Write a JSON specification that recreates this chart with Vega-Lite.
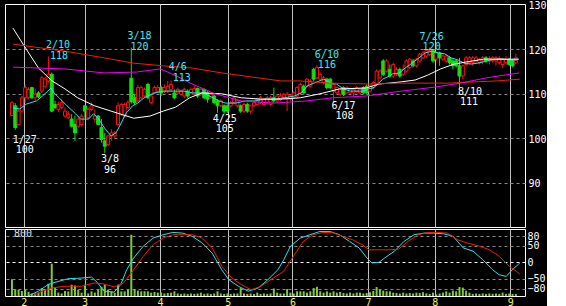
{
"$schema":"https://vega.github.io/schema/vega-lite/v6.json",
"background":"#000000",
"padding":{"left":4,"top":0,"right":0,"bottom":0},
"spacing":0,
"config":{"view":{"stroke":"#ffffff","fill":"#000000","strokeWidth":1},"text":{"font":"DejaVu Sans Mono"}},
"datasets":{
"c":[
{"i":0,"o":105.1,"h":108.4,"l":105.0,"c":108.0,"v":200},
{"i":1,"o":107.3,"h":107.9,"l":101.9,"c":102.4,"v":80},
{"i":2,"o":103.1,"h":106.5,"l":102.9,"c":106.1,"v":75},
{"i":3,"o":106.1,"h":109.5,"l":105.6,"c":109.1,"v":60},
{"i":4,"o":109.1,"h":112.1,"l":108.0,"c":111.4,"v":72},
{"i":5,"o":109.1,"h":111.5,"l":108.8,"c":111.0,"v":50},
{"i":6,"o":111.4,"h":111.6,"l":108.9,"c":109.1,"v":30},
{"i":7,"o":109.1,"h":111.2,"l":108.5,"c":109.9,"v":30},
{"i":8,"o":110.2,"h":110.6,"l":109.0,"c":109.3,"v":40},
{"i":9,"o":110.6,"h":114.0,"l":110.2,"c":113.6,"v":95},
{"i":10,"o":111.7,"h":113.8,"l":111.2,"c":113.3,"v":75},
{"i":11,"o":112.9,"h":118.4,"l":112.5,"c":114.4,"v":147},
{"i":12,"o":114.4,"h":114.8,"l":105.9,"c":106.1,"v":386},
{"i":13,"o":107.6,"h":108.4,"l":106.5,"c":106.9,"v":95},
{"i":14,"o":106.5,"h":108.2,"l":105.9,"c":107.6,"v":40},
{"i":15,"o":106.9,"h":108.8,"l":106.5,"c":108.0,"v":30},
{"i":16,"o":105.0,"h":106.9,"l":104.6,"c":106.1,"v":60},
{"i":17,"o":104.6,"h":106.1,"l":104.3,"c":105.4,"v":55},
{"i":18,"o":104.3,"h":105.4,"l":102.4,"c":102.7,"v":135},
{"i":19,"o":103.1,"h":105.0,"l":99.4,"c":101.2,"v":125},
{"i":20,"o":102.7,"h":105.0,"l":102.4,"c":104.3,"v":75},
{"i":21,"o":103.1,"h":105.4,"l":102.7,"c":105.0,"v":40},
{"i":22,"o":107.3,"h":107.4,"l":104.6,"c":106.1,"v":135},
{"i":23,"o":104.6,"h":106.9,"l":104.3,"c":106.5,"v":30},
{"i":24,"o":106.5,"h":108.0,"l":106.1,"c":107.3,"v":55},
{"i":25,"o":104.3,"h":106.5,"l":103.5,"c":105.0,"v":40},
{"i":26,"o":105.0,"h":105.2,"l":102.9,"c":103.1,"v":75},
{"i":27,"o":102.4,"h":104.3,"l":99.0,"c":99.7,"v":110},
{"i":28,"o":99.4,"h":101.2,"l":96.7,"c":98.2,"v":135},
{"i":29,"o":98.6,"h":100.8,"l":98.2,"c":100.5,"v":75},
{"i":30,"o":100.5,"h":102.0,"l":99.4,"c":101.2,"v":55},
{"i":31,"o":100.5,"h":101.6,"l":100.0,"c":101.2,"v":40},
{"i":32,"o":103.1,"h":108.0,"l":102.7,"c":107.3,"v":135},
{"i":33,"o":105.4,"h":108.0,"l":105.0,"c":107.6,"v":55},
{"i":34,"o":105.0,"h":108.0,"l":104.6,"c":107.6,"v":55},
{"i":35,"o":106.9,"h":108.6,"l":106.5,"c":108.0,"v":75},
{"i":36,"o":113.5,"h":120.4,"l":107.8,"c":108.2,"v":732},
{"i":37,"o":109.1,"h":110.0,"l":107.5,"c":108.0,"v":83},
{"i":38,"o":108.4,"h":112.0,"l":108.0,"c":111.4,"v":64},
{"i":39,"o":109.1,"h":111.8,"l":108.8,"c":111.4,"v":56},
{"i":40,"o":109.5,"h":111.4,"l":109.1,"c":111.0,"v":56},
{"i":41,"o":112.1,"h":112.5,"l":108.8,"c":109.1,"v":56},
{"i":42,"o":108.0,"h":110.0,"l":107.6,"c":109.5,"v":40},
{"i":43,"o":110.2,"h":111.8,"l":109.9,"c":111.4,"v":48},
{"i":44,"o":110.6,"h":112.0,"l":110.2,"c":111.4,"v":40},
{"i":45,"o":111.4,"h":111.8,"l":109.5,"c":110.2,"v":40},
{"i":46,"o":110.6,"h":112.1,"l":110.2,"c":111.4,"v":30},
{"i":47,"o":110.6,"h":112.9,"l":110.2,"c":111.7,"v":35},
{"i":48,"o":111.0,"h":113.0,"l":110.6,"c":112.1,"v":40},
{"i":49,"o":110.2,"h":111.0,"l":108.8,"c":109.1,"v":56},
{"i":50,"o":110.2,"h":111.4,"l":109.9,"c":111.0,"v":30},
{"i":51,"o":109.9,"h":111.0,"l":109.5,"c":110.6,"v":25},
{"i":52,"o":109.5,"h":111.4,"l":109.1,"c":111.0,"v":30},
{"i":53,"o":110.6,"h":111.0,"l":109.1,"c":109.5,"v":25},
{"i":54,"o":110.2,"h":111.4,"l":109.9,"c":111.0,"v":30},
{"i":55,"o":109.9,"h":111.8,"l":109.5,"c":111.2,"v":25},
{"i":56,"o":111.2,"h":111.4,"l":109.1,"c":109.5,"v":30},
{"i":57,"o":109.9,"h":111.4,"l":109.5,"c":111.0,"v":40},
{"i":58,"o":111.0,"h":111.2,"l":108.8,"c":109.1,"v":25},
{"i":59,"o":110.2,"h":110.6,"l":108.0,"c":108.8,"v":30},
{"i":60,"o":109.1,"h":110.2,"l":108.8,"c":109.9,"v":25},
{"i":61,"o":109.5,"h":109.9,"l":107.6,"c":108.0,"v":30},
{"i":62,"o":108.4,"h":108.8,"l":105.7,"c":107.3,"v":56},
{"i":63,"o":107.3,"h":108.8,"l":107.0,"c":108.4,"v":30},
{"i":64,"o":107.3,"h":107.6,"l":105.4,"c":106.1,"v":25},
{"i":65,"o":107.3,"h":107.6,"l":105.7,"c":106.1,"v":30},
{"i":66,"o":107.3,"h":108.4,"l":106.9,"c":108.0,"v":25},
{"i":67,"o":108.0,"h":109.5,"l":107.6,"c":109.1,"v":30},
{"i":68,"o":107.3,"h":108.8,"l":106.9,"c":108.4,"v":30},
{"i":69,"o":107.3,"h":107.6,"l":105.7,"c":106.1,"v":95},
{"i":70,"o":106.1,"h":108.0,"l":105.7,"c":107.6,"v":30},
{"i":71,"o":107.6,"h":108.0,"l":105.7,"c":106.1,"v":25},
{"i":72,"o":106.1,"h":107.6,"l":105.4,"c":107.3,"v":30},
{"i":73,"o":107.3,"h":108.4,"l":106.9,"c":108.0,"v":25},
{"i":74,"o":107.6,"h":109.1,"l":107.3,"c":108.8,"v":40},
{"i":75,"o":108.0,"h":109.5,"l":107.6,"c":109.1,"v":25},
{"i":76,"o":107.6,"h":109.1,"l":107.3,"c":108.8,"v":30},
{"i":77,"o":108.0,"h":109.5,"l":107.6,"c":109.1,"v":25},
{"i":78,"o":107.6,"h":109.5,"l":107.3,"c":109.1,"v":30},
{"i":79,"o":109.1,"h":111.4,"l":108.0,"c":108.4,"v":90},
{"i":80,"o":108.4,"h":109.9,"l":108.0,"c":109.5,"v":40},
{"i":81,"o":108.8,"h":110.2,"l":108.4,"c":109.5,"v":30},
{"i":82,"o":109.1,"h":110.2,"l":108.8,"c":109.9,"v":30},
{"i":83,"o":108.8,"h":110.4,"l":106.1,"c":109.9,"v":83},
{"i":84,"o":108.8,"h":109.9,"l":108.4,"c":109.5,"v":40},
{"i":85,"o":109.1,"h":110.6,"l":108.8,"c":110.2,"v":30},
{"i":86,"o":109.5,"h":111.7,"l":109.1,"c":111.4,"v":56},
{"i":87,"o":110.2,"h":112.5,"l":109.9,"c":112.1,"v":56},
{"i":88,"o":111.7,"h":112.1,"l":109.9,"c":110.2,"v":56},
{"i":89,"o":111.7,"h":113.6,"l":111.4,"c":113.3,"v":40},
{"i":90,"o":111.7,"h":113.3,"l":111.4,"c":112.9,"v":56},
{"i":91,"o":115.5,"h":115.9,"l":112.9,"c":113.3,"v":95},
{"i":92,"o":113.6,"h":116.4,"l":113.3,"c":115.9,"v":110},
{"i":93,"o":113.3,"h":114.8,"l":112.9,"c":114.4,"v":56},
{"i":94,"o":112.5,"h":114.0,"l":112.1,"c":113.6,"v":40},
{"i":95,"o":113.3,"h":113.6,"l":111.0,"c":111.4,"v":56},
{"i":96,"o":113.3,"h":113.6,"l":111.0,"c":111.4,"v":40},
{"i":97,"o":110.6,"h":112.5,"l":108.0,"c":112.1,"v":56},
{"i":98,"o":110.2,"h":111.7,"l":109.9,"c":111.4,"v":40},
{"i":99,"o":109.9,"h":111.4,"l":109.5,"c":111.0,"v":48},
{"i":100,"o":111.4,"h":111.7,"l":109.5,"c":109.9,"v":35},
{"i":101,"o":110.2,"h":111.7,"l":109.9,"c":111.4,"v":30},
{"i":102,"o":110.2,"h":111.4,"l":109.9,"c":111.0,"v":40},
{"i":103,"o":110.2,"h":111.4,"l":109.5,"c":111.0,"v":30},
{"i":104,"o":110.6,"h":111.7,"l":110.2,"c":111.4,"v":40},
{"i":105,"o":110.2,"h":111.4,"l":109.9,"c":111.0,"v":40},
{"i":106,"o":111.4,"h":111.7,"l":109.9,"c":110.2,"v":30},
{"i":107,"o":111.7,"h":112.1,"l":109.9,"c":110.2,"v":35},
{"i":108,"o":110.6,"h":112.1,"l":110.2,"c":111.7,"v":45},
{"i":109,"o":111.4,"h":112.9,"l":111.0,"c":112.5,"v":60},
{"i":110,"o":112.1,"h":115.5,"l":111.7,"c":115.1,"v":107},
{"i":111,"o":113.6,"h":115.5,"l":113.3,"c":115.1,"v":75},
{"i":112,"o":117.4,"h":117.8,"l":114.0,"c":114.4,"v":64},
{"i":113,"o":115.1,"h":117.8,"l":114.8,"c":117.4,"v":56},
{"i":114,"o":115.5,"h":116.6,"l":113.6,"c":114.0,"v":56},
{"i":115,"o":114.0,"h":117.0,"l":113.6,"c":116.6,"v":40},
{"i":116,"o":114.4,"h":116.0,"l":114.0,"c":115.5,"v":35},
{"i":117,"o":115.5,"h":115.9,"l":113.6,"c":114.0,"v":30},
{"i":118,"o":114.4,"h":116.6,"l":114.0,"c":115.5,"v":40},
{"i":119,"o":115.1,"h":117.8,"l":114.8,"c":117.4,"v":30},
{"i":120,"o":115.9,"h":118.1,"l":115.5,"c":117.8,"v":35},
{"i":121,"o":117.4,"h":117.8,"l":115.9,"c":116.3,"v":30},
{"i":122,"o":116.3,"h":118.1,"l":115.9,"c":117.8,"v":40},
{"i":123,"o":117.4,"h":119.2,"l":117.0,"c":118.9,"v":35},
{"i":124,"o":118.1,"h":119.7,"l":117.8,"c":119.2,"v":45},
{"i":125,"o":118.5,"h":120.0,"l":118.1,"c":119.7,"v":30},
{"i":126,"o":118.9,"h":120.4,"l":118.5,"c":119.7,"v":25},
{"i":127,"o":119.7,"h":120.0,"l":117.0,"c":117.4,"v":40},
{"i":128,"o":117.8,"h":119.5,"l":117.4,"c":119.2,"v":20},
{"i":129,"o":119.2,"h":119.5,"l":116.3,"c":118.1,"v":30},
{"i":130,"o":117.8,"h":118.9,"l":117.4,"c":118.5,"v":40},
{"i":131,"o":117.4,"h":118.9,"l":117.0,"c":118.5,"v":56},
{"i":132,"o":118.1,"h":118.5,"l":116.6,"c":117.0,"v":40},
{"i":133,"o":117.4,"h":117.8,"l":115.5,"c":116.3,"v":64},
{"i":134,"o":117.4,"h":117.8,"l":115.9,"c":116.3,"v":56},
{"i":135,"o":116.3,"h":118.1,"l":111.0,"c":114.0,"v":107},
{"i":136,"o":114.0,"h":116.6,"l":113.3,"c":116.3,"v":100},
{"i":137,"o":116.6,"h":118.5,"l":116.3,"c":118.1,"v":64},
{"i":138,"o":117.0,"h":118.5,"l":116.6,"c":118.1,"v":40},
{"i":139,"o":117.0,"h":118.5,"l":116.3,"c":118.1,"v":25},
{"i":140,"o":117.4,"h":118.5,"l":117.0,"c":118.1,"v":30},
{"i":141,"o":117.0,"h":118.1,"l":116.6,"c":117.8,"v":25},
{"i":142,"o":117.4,"h":118.5,"l":116.6,"c":118.1,"v":30},
{"i":143,"o":118.1,"h":118.5,"l":117.0,"c":117.4,"v":25},
{"i":144,"o":117.4,"h":118.5,"l":116.6,"c":118.0,"v":30},
{"i":145,"o":117.4,"h":118.5,"l":117.0,"c":118.1,"v":25},
{"i":146,"o":117.4,"h":118.5,"l":116.3,"c":118.1,"v":30},
{"i":147,"o":117.0,"h":118.5,"l":116.6,"c":118.0,"v":25},
{"i":148,"o":116.6,"h":118.1,"l":115.9,"c":117.8,"v":40},
{"i":149,"o":117.0,"h":118.5,"l":116.6,"c":117.8,"v":25},
{"i":150,"o":117.8,"h":118.1,"l":116.3,"c":116.6,"v":30},
{"i":151,"o":117.4,"h":117.8,"l":116.0,"c":116.3,"v":25},
{"i":152,"o":117.0,"h":119.0,"l":116.6,"c":118.1,"v":25}
],
"ma":[
{"s":"m5","i":0.3,"v":106.8},{"s":"m5","i":2.4,"v":106.6},{"s":"m5","i":4.4,"v":107.7},{"s":"m5","i":7.4,"v":108.4},{"s":"m5","i":9.2,"v":109.5},{"s":"m5","i":11.8,"v":111.3},{"s":"m5","i":12.7,"v":110.2},{"s":"m5","i":14.2,"v":109.1},{"s":"m5","i":16.6,"v":107.3},{"s":"m5","i":19.2,"v":105.5},{"s":"m5","i":20.7,"v":104.3},{"s":"m5","i":23.1,"v":104.3},{"s":"m5","i":24.6,"v":105.5},{"s":"m5","i":26.0,"v":104.5},{"s":"m5","i":28.1,"v":102.1},{"s":"m5","i":29.9,"v":100.5},{"s":"m5","i":31.4,"v":101.2},{"s":"m5","i":32.8,"v":103.2},{"s":"m5","i":34.3,"v":105.5},{"s":"m5","i":36.4,"v":107.3},{"s":"m5","i":37.9,"v":107.9},{"s":"m5","i":39.9,"v":109.1},{"s":"m5","i":42.9,"v":110.2},{"s":"m5","i":45.9,"v":110.6},{"s":"m5","i":48.8,"v":110.6},{"s":"m5","i":51.8,"v":110.6},{"s":"m5","i":54.7,"v":110.2},{"s":"m5","i":57.7,"v":110.2},{"s":"m5","i":60.7,"v":109.1},{"s":"m5","i":62.4,"v":108.4},{"s":"m5","i":64.5,"v":107.9},{"s":"m5","i":67.5,"v":107.9},{"s":"m5","i":70.4,"v":108.4},{"s":"m5","i":73.4,"v":108.4},{"s":"m5","i":76.3,"v":108.8},{"s":"m5","i":79.3,"v":108.8},{"s":"m5","i":82.2,"v":109.1},{"s":"m5","i":85.2,"v":109.5},{"s":"m5","i":87.3,"v":110.2},{"s":"m5","i":89.1,"v":111.8},{"s":"m5","i":91.1,"v":112.4},{"s":"m5","i":94.1,"v":113.3},{"s":"m5","i":96.2,"v":112.4},{"s":"m5","i":97.9,"v":112.2},{"s":"m5","i":100.0,"v":111.1},{"s":"m5","i":102.1,"v":110.6},{"s":"m5","i":103.8,"v":110.6},{"s":"m5","i":105.9,"v":110.6},{"s":"m5","i":107.4,"v":111.1},{"s":"m5","i":108.9,"v":111.3},{"s":"m5","i":110.4,"v":112.2},{"s":"m5","i":111.8,"v":113.3},{"s":"m5","i":113.9,"v":114.0},{"s":"m5","i":114.8,"v":114.5},{"s":"m5","i":116.9,"v":114.7},{"s":"m5","i":118.6,"v":115.8},{"s":"m5","i":120.7,"v":116.9},{"s":"m5","i":122.8,"v":118.1},{"s":"m5","i":124.6,"v":119.2},{"s":"m5","i":126.6,"v":119.6},{"s":"m5","i":128.7,"v":119.2},{"s":"m5","i":130.5,"v":119.0},{"s":"m5","i":132.5,"v":118.1},{"s":"m5","i":134.6,"v":117.6},{"s":"m5","i":136.4,"v":116.9},{"s":"m5","i":138.5,"v":116.7},{"s":"m5","i":140.5,"v":116.9},{"s":"m5","i":142.3,"v":117.2},{"s":"m5","i":144.4,"v":117.6},{"s":"m5","i":146.4,"v":117.8},{"s":"m5","i":148.2,"v":117.8},{"s":"m5","i":150.3,"v":117.6},{"s":"m5","i":152.4,"v":117.6},
{"s":"m25","i":0.3,"v":124.8},{"s":"m25","i":4.1,"v":120.3},{"s":"m25","i":8.0,"v":115.8},{"s":"m25","i":12.1,"v":112.9},{"s":"m25","i":16.0,"v":111.1},{"s":"m25","i":19.8,"v":109.1},{"s":"m25","i":24.9,"v":107.3},{"s":"m25","i":29.9,"v":106.1},{"s":"m25","i":36.7,"v":104.5},{"s":"m25","i":41.7,"v":105.0},{"s":"m25","i":45.6,"v":106.1},{"s":"m25","i":49.4,"v":107.0},{"s":"m25","i":53.6,"v":109.1},{"s":"m25","i":57.4,"v":110.2},{"s":"m25","i":63.3,"v":110.0},{"s":"m25","i":69.2,"v":109.1},{"s":"m25","i":75.1,"v":108.8},{"s":"m25","i":81.1,"v":108.8},{"s":"m25","i":87.0,"v":109.1},{"s":"m25","i":92.9,"v":110.0},{"s":"m25","i":98.8,"v":111.1},{"s":"m25","i":106.8,"v":111.3},{"s":"m25","i":110.7,"v":112.2},{"s":"m25","i":113.6,"v":112.4},{"s":"m25","i":117.5,"v":112.7},{"s":"m25","i":121.6,"v":113.1},{"s":"m25","i":125.4,"v":114.2},{"s":"m25","i":129.3,"v":115.6},{"s":"m25","i":133.4,"v":116.7},{"s":"m25","i":137.3,"v":117.2},{"s":"m25","i":142.3,"v":117.8},{"s":"m25","i":149.1,"v":117.8},{"s":"m25","i":152.9,"v":117.8},
{"s":"m75","i":0.3,"v":121.2},{"s":"m75","i":4.1,"v":120.8},{"s":"m75","i":16.0,"v":119.6},{"s":"m75","i":27.8,"v":118.1},{"s":"m75","i":36.7,"v":116.9},{"s":"m75","i":45.6,"v":116.3},{"s":"m75","i":54.4,"v":115.8},{"s":"m75","i":63.3,"v":114.7},{"s":"m75","i":72.2,"v":113.8},{"s":"m75","i":81.1,"v":112.9},{"s":"m75","i":87.0,"v":112.9},{"s":"m75","i":95.9,"v":112.4},{"s":"m75","i":107.7,"v":112.2},{"s":"m75","i":116.6,"v":112.4},{"s":"m75","i":131.4,"v":112.4},{"s":"m75","i":140.2,"v":112.7},{"s":"m75","i":146.2,"v":112.9},{"s":"m75","i":153.2,"v":113.3},
{"s":"m100","i":0.3,"v":116.0},{"s":"m100","i":16.0,"v":115.6},{"s":"m100","i":27.8,"v":114.7},{"s":"m100","i":37.6,"v":114.9},{"s":"m100","i":44.7,"v":115.6},{"s":"m100","i":47.6,"v":114.7},{"s":"m100","i":51.5,"v":113.3},{"s":"m100","i":54.4,"v":112.2},{"s":"m100","i":61.2,"v":110.0},{"s":"m100","i":69.2,"v":108.4},{"s":"m100","i":79.0,"v":107.9},{"s":"m100","i":89.0,"v":108.4},{"s":"m100","i":96.7,"v":109.1},{"s":"m100","i":106.8,"v":109.5},{"s":"m100","i":117.5,"v":110.6},{"s":"m100","i":127.5,"v":111.5},{"s":"m100","i":135.2,"v":112.4},{"s":"m100","i":143.2,"v":113.6},{"s":"m100","i":153.0,"v":114.7}
],
"osc":[
{"s":"k","i":5.0,"v":-102},{"s":"k","i":8.0,"v":-88},{"s":"k","i":10.9,"v":-68},{"s":"k","i":13.0,"v":-61},{"s":"k","i":16.9,"v":-50},{"s":"k","i":21.0,"v":-48},{"s":"k","i":24.0,"v":-45},{"s":"k","i":25.7,"v":-61},{"s":"k","i":27.8,"v":-88},{"s":"k","i":30.8,"v":-91},{"s":"k","i":32.8,"v":-68},{"s":"k","i":34.6,"v":-23},{"s":"k","i":36.7,"v":13},{"s":"k","i":39.6,"v":49},{"s":"k","i":42.6,"v":74},{"s":"k","i":45.6,"v":84},{"s":"k","i":48.5,"v":91},{"s":"k","i":51.5,"v":89},{"s":"k","i":54.4,"v":79},{"s":"k","i":57.4,"v":59},{"s":"k","i":60.4,"v":28},{"s":"k","i":63.3,"v":-23},{"s":"k","i":65.4,"v":-53},{"s":"k","i":68.3,"v":-73},{"s":"k","i":71.3,"v":-88},{"s":"k","i":74.3,"v":-78},{"s":"k","i":77.2,"v":-53},{"s":"k","i":80.2,"v":-23},{"s":"k","i":82.0,"v":8},{"s":"k","i":84.0,"v":49},{"s":"k","i":87.0,"v":74},{"s":"k","i":89.9,"v":84},{"s":"k","i":92.9,"v":94},{"s":"k","i":95.9,"v":94},{"s":"k","i":98.8,"v":84},{"s":"k","i":101.8,"v":64},{"s":"k","i":104.7,"v":44},{"s":"k","i":107.1,"v":13},{"s":"k","i":108.6,"v":-2},{"s":"k","i":110.7,"v":0},{"s":"k","i":112.4,"v":13},{"s":"k","i":115.4,"v":34},{"s":"k","i":118.3,"v":64},{"s":"k","i":121.3,"v":84},{"s":"k","i":124.3,"v":89},{"s":"k","i":127.2,"v":89},{"s":"k","i":130.2,"v":87},{"s":"k","i":133.1,"v":79},{"s":"k","i":136.1,"v":44},{"s":"k","i":139.1,"v":34},{"s":"k","i":142.0,"v":8},{"s":"k","i":145.0,"v":-23},{"s":"k","i":147.0,"v":-38},{"s":"k","i":149.1,"v":-43},{"s":"k","i":150.9,"v":-23},{"s":"k","i":153.2,"v":-2},
{"s":"d","i":6.2,"v":-102},{"s":"d","i":9.2,"v":-88},{"s":"d","i":12.1,"v":-78},{"s":"d","i":16.0,"v":-73},{"s":"d","i":21.0,"v":-73},{"s":"d","i":24.9,"v":-63},{"s":"d","i":27.8,"v":-66},{"s":"d","i":30.8,"v":-75},{"s":"d","i":33.7,"v":-63},{"s":"d","i":36.7,"v":-23},{"s":"d","i":39.6,"v":18},{"s":"d","i":42.6,"v":54},{"s":"d","i":45.6,"v":74},{"s":"d","i":48.5,"v":84},{"s":"d","i":51.5,"v":84},{"s":"d","i":54.4,"v":84},{"s":"d","i":57.4,"v":74},{"s":"d","i":60.4,"v":44},{"s":"d","i":63.3,"v":-12},{"s":"d","i":66.3,"v":-48},{"s":"d","i":69.2,"v":-68},{"s":"d","i":72.2,"v":-84},{"s":"d","i":75.1,"v":-73},{"s":"d","i":78.1,"v":-53},{"s":"d","i":82.0,"v":-27},{"s":"d","i":84.9,"v":18},{"s":"d","i":87.9,"v":64},{"s":"d","i":90.8,"v":84},{"s":"d","i":93.8,"v":91},{"s":"d","i":96.7,"v":91},{"s":"d","i":99.7,"v":79},{"s":"d","i":102.7,"v":69},{"s":"d","i":105.6,"v":54},{"s":"d","i":107.7,"v":38},{"s":"d","i":110.7,"v":38},{"s":"d","i":113.6,"v":38},{"s":"d","i":116.6,"v":40},{"s":"d","i":119.5,"v":64},{"s":"d","i":122.5,"v":84},{"s":"d","i":125.4,"v":91},{"s":"d","i":128.4,"v":91},{"s":"d","i":131.4,"v":89},{"s":"d","i":134.3,"v":69},{"s":"d","i":137.3,"v":59},{"s":"d","i":141.1,"v":49},{"s":"d","i":144.1,"v":38},{"s":"d","i":147.0,"v":18},{"s":"d","i":150.0,"v":-12},{"s":"d","i":152.1,"v":-27},{"s":"d","i":153.2,"v":-36}
],
"lab":[
{"i":13.9,"p":120.88,"t":"2/10","k":"hi"},{"i":14.2,"p":118.51,"t":"118","k":"hi"},
{"i":38.5,"p":122.96,"t":"3/18","k":"hi"},{"i":38.5,"p":120.6,"t":"120","k":"hi"},
{"i":50.0,"p":115.98,"t":"4/6","k":"hi"},{"i":51.2,"p":113.61,"t":"113","k":"hi"},
{"i":3.85,"p":99.65,"t":"1/27","k":"lo"},{"i":3.85,"p":97.28,"t":"100","k":"lo"},
{"i":29.6,"p":95.26,"t":"3/8","k":"lo"},{"i":29.6,"p":92.89,"t":"96","k":"lo"},
{"i":64.2,"p":104.38,"t":"4/25","k":"lo"},{"i":64.2,"p":102.02,"t":"105","k":"lo"},
{"i":95.0,"p":118.8,"t":"6/10","k":"hi"},{"i":95.0,"p":116.43,"t":"116","k":"hi"},
{"i":100.0,"p":107.25,"t":"6/17","k":"lo"},{"i":100.3,"p":104.89,"t":"108","k":"lo"},
{"i":126.6,"p":122.9,"t":"7/26","k":"hi"},{"i":126.6,"p":120.54,"t":"120","k":"hi"},
{"i":138.2,"p":110.46,"t":"8/10","k":"lo"},{"i":137.9,"p":108.1,"t":"111","k":"lo"}
]
},
"vconcat":[
{
"width":520,"height":223,
"resolve":{"scale":{"color":"independent"}},
"layer":[
{"data":{"name":"c"},"mark":{"type":"rule","strokeWidth":1},
"encoding":{
"x":{"field":"i","type":"quantitative","scale":{"domain":[-0.59,153.25],"nice":false,"zero":false},"axis":{"values":[3.55,21.89,44.67,65.09,84.62,107.4,127.51,150.3],"labels":false,"ticks":false,"domain":false,"grid":true,"gridColor":"#c0c0c0","title":null}},
"y":{"field":"l","type":"quantitative","scale":{"domain":[80,130.225],"nice":false,"zero":false},"axis":{"orient":"right","values":[90,100,110,120,130],"ticks":false,"domain":false,"grid":true,"gridDash":[3,3],"gridColor":"#888888","gridOpacity":{"condition":{"test":"datum.value > 125","value":0},"value":1},"labelColor":"#ffffff","labelFont":"DejaVu Sans Mono","labelFontSize":10,"labelPadding":3,"labelOffset":1,"labelOverlap":false,"title":null}},
"y2":{"field":"h"},
"color":{"condition":{"test":"datum.c >= datum.o","value":"#ff1010"},"value":"#10e010"}}},
{"data":{"name":"c"},"mark":{"type":"bar","width":3,"strokeWidth":1},
"encoding":{
"x":{"field":"i","type":"quantitative","scale":{"domain":[-0.59,153.25],"nice":false,"zero":false},"axis":{"values":[3.55,21.89,44.67,65.09,84.62,107.4,127.51,150.3],"labels":false,"ticks":false,"domain":false,"grid":true,"gridColor":"#c0c0c0","title":null}},
"y":{"field":"o","type":"quantitative","scale":{"domain":[80,130.225],"nice":false,"zero":false},"axis":{"orient":"right","values":[90,100,110,120,130],"ticks":false,"domain":false,"grid":true,"gridDash":[3,3],"gridColor":"#888888","gridOpacity":{"condition":{"test":"datum.value > 125","value":0},"value":1},"labelColor":"#ffffff","labelFont":"DejaVu Sans Mono","labelFontSize":10,"labelPadding":3,"labelOffset":1,"labelOverlap":false,"title":null}},
"y2":{"field":"c"},
"fill":{"condition":{"test":"datum.c >= datum.o","value":"#000000"},"value":"#10e010"},
"stroke":{"condition":{"test":"datum.c >= datum.o","value":"#ff1010"},"value":"#10e010"}}},
{"data":{"name":"ma"},"mark":{"type":"line","strokeWidth":1},
"encoding":{
"x":{"field":"i","type":"quantitative","scale":{"domain":[-0.59,153.25],"nice":false,"zero":false},"axis":{"values":[3.55,21.89,44.67,65.09,84.62,107.4,127.51,150.3],"labels":false,"ticks":false,"domain":false,"grid":true,"gridColor":"#c0c0c0","title":null}},
"y":{"field":"v","type":"quantitative","scale":{"domain":[80,130.225],"nice":false,"zero":false},"axis":{"orient":"right","values":[90,100,110,120,130],"ticks":false,"domain":false,"grid":true,"gridDash":[3,3],"gridColor":"#888888","gridOpacity":{"condition":{"test":"datum.value > 125","value":0},"value":1},"labelColor":"#ffffff","labelFont":"DejaVu Sans Mono","labelFontSize":10,"labelPadding":3,"labelOffset":1,"labelOverlap":false,"title":null}},
"color":{"field":"s","type":"nominal","scale":{"domain":["m100","m75","m25","m5"],"range":["#f000f0","#f02000","#ffffff","#30e0f0"]},"legend":null}}},
{"data":{"name":"lab"},"mark":{"type":"text","font":"DejaVu Sans Mono","fontSize":10,"align":"center","baseline":"middle"},
"encoding":{
"x":{"field":"i","type":"quantitative","scale":{"domain":[-0.59,153.25],"nice":false,"zero":false},"axis":{"values":[3.55,21.89,44.67,65.09,84.62,107.4,127.51,150.3],"labels":false,"ticks":false,"domain":false,"grid":true,"gridColor":"#c0c0c0","title":null}},
"y":{"field":"p","type":"quantitative","scale":{"domain":[80,130.225],"nice":false,"zero":false},"axis":{"orient":"right","values":[90,100,110,120,130],"ticks":false,"domain":false,"grid":true,"gridDash":[3,3],"gridColor":"#888888","gridOpacity":{"condition":{"test":"datum.value > 125","value":0},"value":1},"labelColor":"#ffffff","labelFont":"DejaVu Sans Mono","labelFontSize":10,"labelPadding":3,"labelOffset":1,"labelOverlap":false,"title":null}},
"text":{"field":"t"},
"color":{"field":"k","type":"nominal","scale":{"domain":["hi","lo"],"range":["#40e8f8","#ffffff"]},"legend":null}}}
]
},
{
"width":520,"height":67,
"resolve":{"scale":{"y":"independent","color":"independent"}},
"layer":[
{"data":{"name":"c"},"mark":{"type":"bar","width":2,"color":"#80c840"},
"encoding":{
"x":{"field":"i","type":"quantitative","scale":{"domain":[-0.59,153.25],"nice":false,"zero":false},"axis":{"values":[3.55,21.89,44.67,65.09,84.62,107.4,127.51,150.3],"labelExpr":"datum.value < 10 ? '2' : datum.value < 30 ? '3' : datum.value < 50 ? '4' : datum.value < 70 ? '5' : datum.value < 90 ? '6' : datum.value < 110 ? '7' : datum.value < 130 ? '8' : '9'","labelColor":"#f0f070","labelFont":"DejaVu Sans Mono","labelFontSize":10,"labelPadding":1,"labelFlush":false,"ticks":false,"domain":false,"grid":true,"gridColor":"#c0c0c0","title":null}},
"y":{"field":"v","type":"quantitative","scale":{"domain":[0,800],"nice":false,"zero":true},"axis":null}}},
{"data":{"values":[{"i":0.6,"v":735,"t":"800"}]},"mark":{"type":"text","font":"DejaVu Sans Mono","fontSize":10,"align":"left","baseline":"middle","color":"#e0e0e0"},
"encoding":{
"x":{"field":"i","type":"quantitative","scale":{"domain":[-0.59,153.25],"nice":false,"zero":false},"axis":{"values":[3.55,21.89,44.67,65.09,84.62,107.4,127.51,150.3],"labelExpr":"datum.value < 10 ? '2' : datum.value < 30 ? '3' : datum.value < 50 ? '4' : datum.value < 70 ? '5' : datum.value < 90 ? '6' : datum.value < 110 ? '7' : datum.value < 130 ? '8' : '9'","labelColor":"#f0f070","labelFont":"DejaVu Sans Mono","labelFontSize":10,"labelPadding":1,"labelFlush":false,"ticks":false,"domain":false,"grid":true,"gridColor":"#c0c0c0","title":null}},
"y":{"field":"v","type":"quantitative","scale":{"domain":[0,800],"nice":false,"zero":true},"axis":null},
"text":{"field":"t"}}},
{"data":{"name":"osc"},"mark":{"type":"line","strokeWidth":1},
"encoding":{
"x":{"field":"i","type":"quantitative","scale":{"domain":[-0.59,153.25],"nice":false,"zero":false},"axis":{"values":[3.55,21.89,44.67,65.09,84.62,107.4,127.51,150.3],"labelExpr":"datum.value < 10 ? '2' : datum.value < 30 ? '3' : datum.value < 50 ? '4' : datum.value < 70 ? '5' : datum.value < 90 ? '6' : datum.value < 110 ? '7' : datum.value < 130 ? '8' : '9'","labelColor":"#f0f070","labelFont":"DejaVu Sans Mono","labelFontSize":10,"labelPadding":1,"labelFlush":false,"ticks":false,"domain":false,"grid":true,"gridColor":"#c0c0c0","title":null}},
"y":{"field":"v","type":"quantitative","scale":{"domain":[-102.7,101.5],"nice":false,"zero":false},"axis":{"orient":"right","values":[80,50,0,-50,-80],"ticks":false,"domain":false,"grid":true,"gridDash":[3,3],"gridColor":{"condition":{"test":"datum.value == 0","value":"#ffffff"},"value":"#888888"},"labelColor":"#ffffff","labelFont":"DejaVu Sans Mono","labelFontSize":10,"labelPadding":2,"labelOverlap":false,"title":null}},
"color":{"field":"s","type":"nominal","scale":{"domain":["d","k"],"range":["#f02000","#30e0f0"]},"legend":null}}}
]
}
]
}
